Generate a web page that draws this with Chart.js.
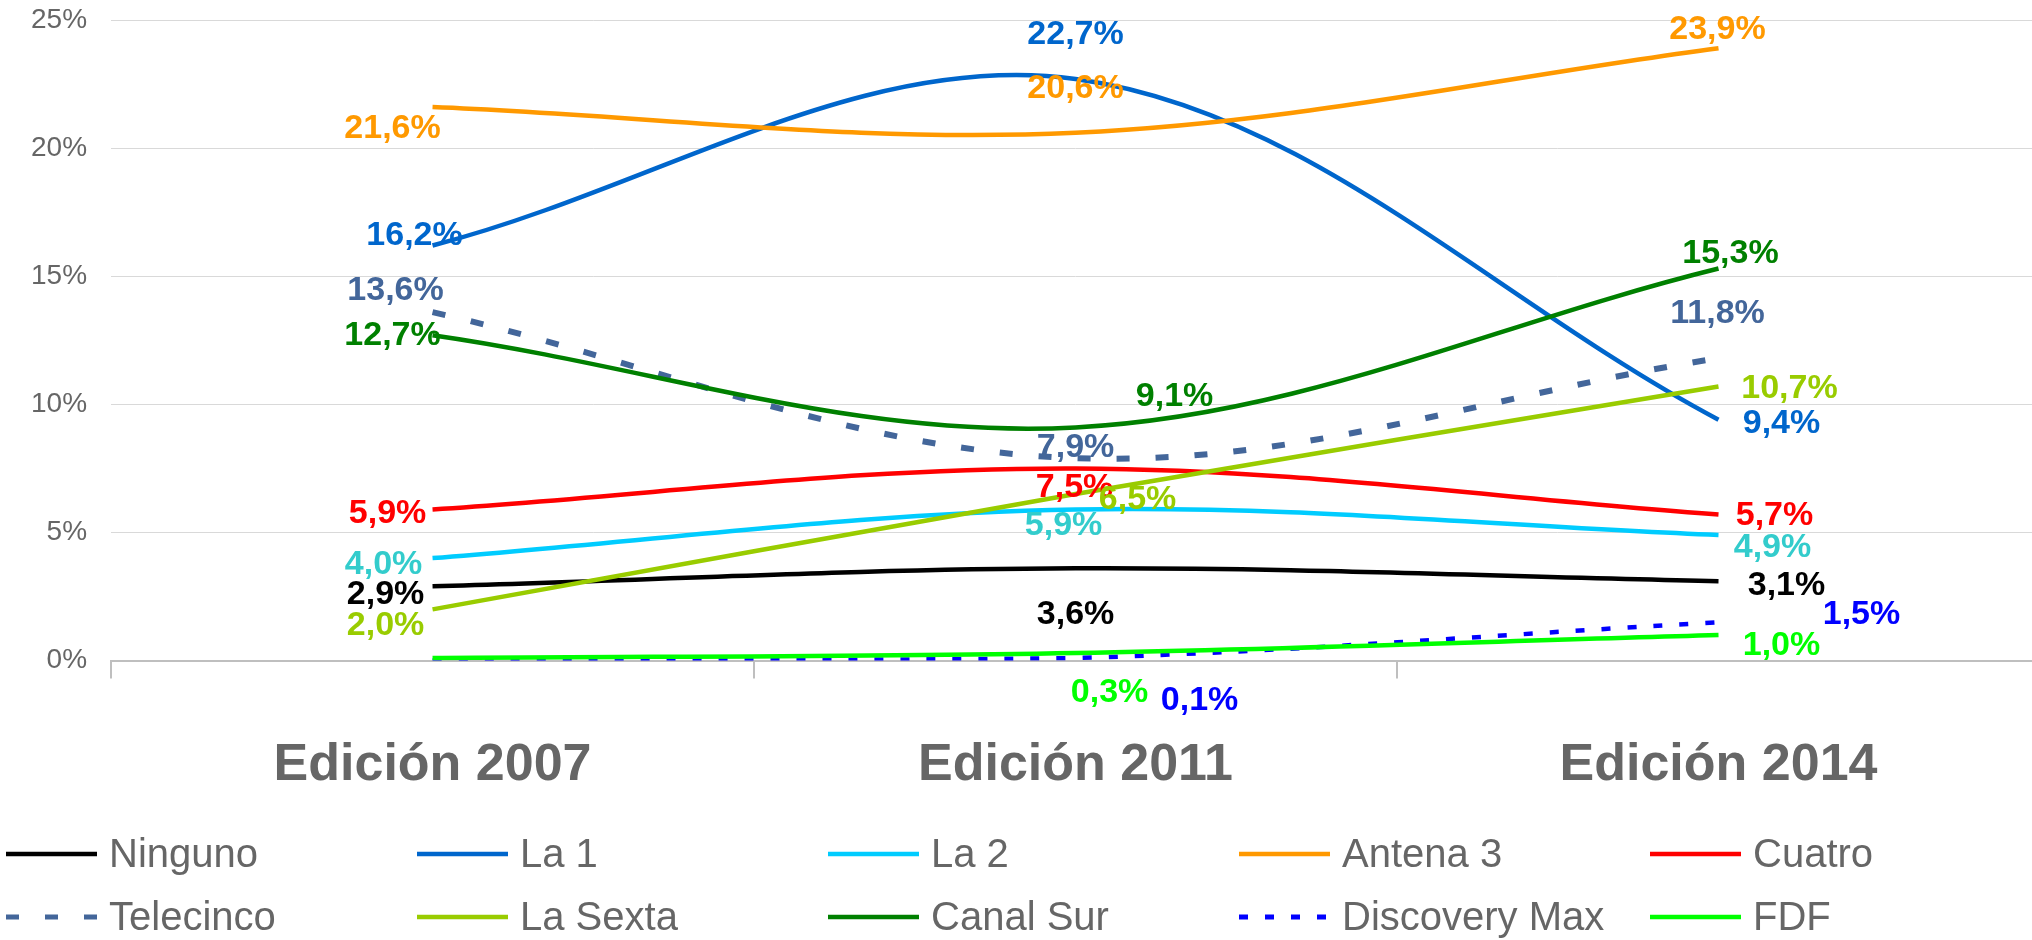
<!DOCTYPE html>
<html>
<head>
<meta charset="utf-8">
<script src="https://cdn.jsdelivr.net/npm/chart.js@4.4.1/dist/chart.umd.min.js"></script>
<style>
  html, body { margin: 0; padding: 0; background: #fff; overflow: hidden; }
  #wrap { width: 2040px; height: 940px; }
</style>
</head>
<body>
<div id="wrap"><canvas id="chart" width="2040" height="940"></canvas></div>
<script>
var editions = ['Edición 2007', 'Edición 2011', 'Edición 2014']
var yTicks = [0, 5, 10, 15, 20, 25]

var ninguno = [2.9, 3.6, 3.1]
var la1 = [16.2, 22.7, 9.4]
var la2 = [4.0, 5.9, 4.9]
var antena3 = [21.6, 20.6, 23.9]
var cuatro = [5.9, 7.5, 5.7]
var telecinco = [13.6, 7.9, 11.8]
var laSexta = [2.0, 6.5, 10.7]
var canalSur = [12.7, 9.1, 15.3]
var discoveryMax = [0.0, 0.1, 1.5]
var fdf = [0.1, 0.3, 1.0]

// where each value label sits, relative to its point (null = no label)
var labelOffsets = {
  'Ninguno': [[-47, 6], [0, 44], [68, 2]],
  'La 1': [[-18, -12], [0, -47], [63, 1]],
  'La 2': [[-49, 4], [-12, 14], [54, 10]],
  'Antena 3': [[-40, 19], [0, -47], [-1, -21]],
  'Cuatro': [[-45, 2], [-1, 17], [56, -2]],
  'Telecinco': [[-37, -24], [0, -13], [-1, -47]],
  'La Sexta': [[-47, 14], [62, 3], [71, 0]],
  'Canal Sur': [[-40, -2], [99, -33], [12, -18]],
  'Discovery Max': [null, [124, 40], [143, -10]],
  'FDF': [null, [34, 37], [63, 8]]
}

var FONT = '"Liberation Sans", Arial, sans-serif'
Chart.defaults.font.family = FONT

function makeSeries (label, data, color, labelColor, width, dash) {
  return {
    label: label,
    data: data,
    borderColor: color,
    backgroundColor: color,
    labelColor: labelColor,
    borderWidth: width,
    borderDash: dash || [],
    borderCapStyle: 'butt',
    pointRadius: 0,
    pointHoverRadius: 0,
    tension: 0.35,
    fill: false
  }
}

var datasets = [
  makeSeries('Ninguno', ninguno, '#000000', '#000000', 4.5),
  makeSeries('La 1', la1, '#0066CC', '#0066CC', 4.5),
  makeSeries('La 2', la2, '#00CCFF', '#33CCCC', 4.5),
  makeSeries('Antena 3', antena3, '#FF9900', '#FF9900', 4.5),
  makeSeries('Cuatro', cuatro, '#FF0000', '#FF0000', 4.5),
  makeSeries('Telecinco', telecinco, '#43669A', '#43669A', 6, [13, 26]),
  makeSeries('La Sexta', laSexta, '#99CC00', '#99CC00', 4.5),
  makeSeries('Canal Sur', canalSur, '#008000', '#008000', 4.5),
  makeSeries('Discovery Max', discoveryMax, '#0000FF', '#0000FF', 4.5, [9, 17]),
  makeSeries('FDF', fdf, '#00FF00', '#00FF00', 4.5)
]
// later series drawn on top, as in the original
for (var i = 0; i < datasets.length; i++) {
  datasets[i].order = datasets.length - i
}

function fmt (v) {
  return v.toFixed(1).replace('.', ',') + '%'
}

var valueLabels = {
  id: 'valueLabels',
  afterDatasetsDraw: function (chart) {
    var ctx = chart.ctx
    ctx.save()
    ctx.font = 'bold 34px ' + FONT
    ctx.textAlign = 'center'
    ctx.textBaseline = 'alphabetic'
    chart.data.datasets.forEach(function (ds, di) {
      var meta = chart.getDatasetMeta(di)
      var offs = labelOffsets[ds.label]
      meta.data.forEach(function (pt, j) {
        if (!offs || !offs[j]) return
        ctx.fillStyle = ds.labelColor
        ctx.fillText(fmt(ds.data[j]), pt.x + offs[j][0], pt.y + offs[j][1] + 12)
      })
    })
    ctx.restore()
  }
}

var gridLegend = {
  id: 'gridLegend',
  afterDraw: function (chart) {
    var ctx = chart.ctx
    ctx.save()
    ctx.font = '40px ' + FONT
    ctx.textBaseline = 'alphabetic'
    ctx.textAlign = 'left'
    chart.data.datasets.forEach(function (ds, i) {
      var col = i % 5
      var row = Math.floor(i / 5)
      var x = 6 + col * 411
      var y = row === 0 ? 854 : 917
      ctx.beginPath()
      ctx.strokeStyle = ds.borderColor
      ctx.lineWidth = ds.borderDash.length ? 5 : 4.5
      ctx.lineCap = 'butt'
      ctx.setLineDash(ds.borderDash)
      ctx.moveTo(x, y)
      ctx.lineTo(x + 91, y)
      ctx.stroke()
      ctx.setLineDash([])
      ctx.fillStyle = '#666666'
      ctx.fillText(ds.label, x + 103, y + 13)
    })
    ctx.restore()
  }
}

new Chart(document.getElementById('chart'), {
  type: 'line',
  data: { labels: editions, datasets: datasets },
  plugins: [valueLabels, gridLegend],
  options: {
    responsive: false,
    animation: false,
    devicePixelRatio: 1,
    layout: { padding: { left: 7, top: 20, right: 0, bottom: 87 } },
    plugins: {
      legend: { display: false },
      tooltip: { enabled: false }
    },
    scales: {
      x: {
        offset: true,
        grid: {
          offset: true,
          drawOnChartArea: false,
          drawTicks: true,
          tickLength: 18,
          color: '#BFBFBF',
          lineWidth: 2
        },
        border: { display: true, color: '#BFBFBF', width: 2 },
        ticks: {
          font: { size: 52, weight: 'bold' },
          color: '#666666',
          padding: 56,
          maxRotation: 0,
          autoSkip: false
        }
      },
      y: {
        min: yTicks[0],
        max: yTicks[yTicks.length - 1],
        afterBuildTicks: function (axis) {
          axis.ticks = yTicks.map(function (v) { return { value: v } })
        },
        afterFit: function (axis) {
          axis.paddingTop = 0
        },
        grid: { color: '#D9D9D9', lineWidth: 1, drawTicks: false },
        border: { display: false },
        ticks: {
          font: { size: 28 },
          color: '#666666',
          padding: 24,
          callback: function (v) { return v + '%' }
        }
      }
    }
  }
})
</script>
</body>
</html>
